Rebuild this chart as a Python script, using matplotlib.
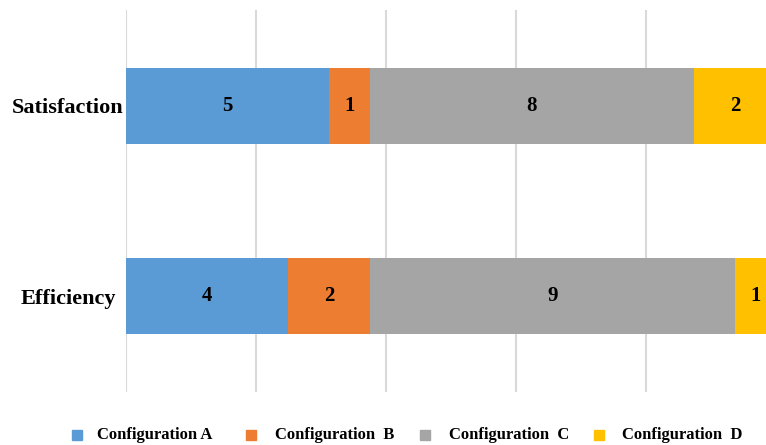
import matplotlib
matplotlib.use("Agg")
import matplotlib.pyplot as plt
from matplotlib.patches import Rectangle
import numpy as np

categories = ["Efficiency", "Satisfaction"]
series_names = ["Configuration A", "Configuration  B", "Configuration  C", "Configuration  D"]
config_a = [4, 5]
config_b = [2, 1]
config_c = [9, 8]
config_d = [1, 2]
colors = ["#5B9BD5", "#ED7D31", "#A5A5A5", "#FFC000"]
grid_ticks = [0, 3.2, 6.4, 9.6, 12.8]

plt.rcParams['font.family'] = ['Liberation Serif', 'DejaVu Serif']

fig = plt.figure(figsize=(7.66, 4.45), dpi=100)
ax = fig.add_axes([126/766, 53/445, 640/766, 382/445])

y = np.arange(len(categories))
left = np.zeros(len(categories))
for vals, col in zip([config_a, config_b, config_c, config_d], colors):
    vals = np.array(vals, dtype=float)
    ax.barh(y, vals, left=left, height=0.4, color=col, zorder=3)
    for yi, (l, v) in enumerate(zip(left, vals)):
        ax.text(l + v / 2, yi, f"{int(v)}", ha='center', va='center',
                fontsize=15, fontweight='bold', color='black', zorder=4,
                clip_on=False)
    left += vals

ax.set_xticks(grid_ticks)
ax.set_xticklabels([])
ax.tick_params(axis='x', length=0)
ax.set_xlim(0, 640/40.6)
ax.set_ylim(-0.505, 1.505)
ax.grid(axis='x', color='#D9D9D9', linewidth=1.5, zorder=0)
ax.set_yticks(y)
ax.set_yticklabels(categories, fontsize=16, fontweight='bold')
for lab in ax.get_yticklabels():
    lab.set_horizontalalignment('center')
ax.tick_params(axis='y', length=0, pad=58*0.72)
for s in ax.spines.values():
    s.set_visible(False)

# legend
sq_x = [72, 246, 420, 594]
tx_x = [97, 275, 449, 622]
for name, col, sx, tx in zip(series_names, colors, sq_x, tx_x):
    fig.patches.append(Rectangle((sx/766, (445-440)/445), 10/766, 10/445,
                                 transform=fig.transFigure, color=col))
    fig.text(tx/766, (445-435)/445, name, ha='left', va='center',
             fontsize=12, fontweight='bold')

fig.savefig("out.png", dpi=100)
